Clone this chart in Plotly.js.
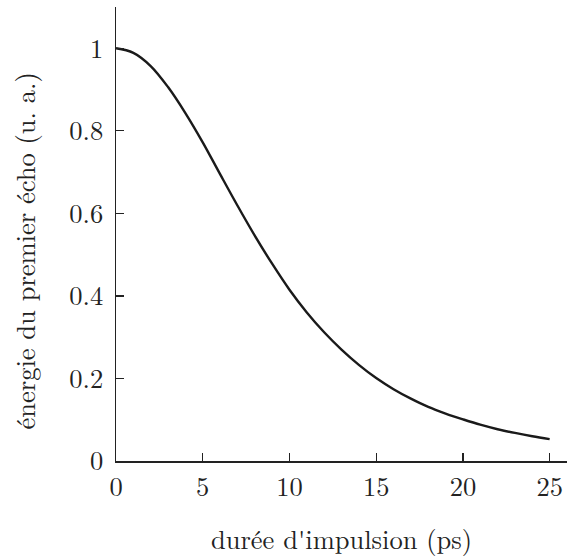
<!DOCTYPE html>
<html>
<head>
<meta charset="utf-8">
<script src="https://cdn.plot.ly/plotly-3.0.1.min.js"></script>
<style>html,body{margin:0;padding:0;background:#fff;}#chart{width:568px;height:557px;}</style>
</head>
<body>
<div id="chart"></div>
<script>
const duree = [0, 1, 2, 3, 4, 5, 6, 7, 8, 9, 10, 11, 12, 13, 14, 15, 16, 17, 18, 19, 20, 21, 22, 23, 24, 25];
const energie = [1.0, 0.989, 0.957, 0.906, 0.843, 0.772, 0.695, 0.619, 0.546, 0.478, 0.415, 0.360, 0.312, 0.270, 0.233, 0.201, 0.174, 0.151, 0.131, 0.115, 0.101, 0.088, 0.077, 0.068, 0.060, 0.053];
const xTicks = [0, 5, 10, 15, 20, 25];
const yTicks = [0, 0.2, 0.4, 0.6, 0.8, 1];
const yTickLabels = ['0', '0.2', '0.4', '0.6', '0.8', '1'];
const xTitle = "durée d'impulsion (ps)";
const yTitle = 'énergie du premier écho (u. a.)';

const fontFam = 'Latin Modern Roman';
const fs = 26.5;
const trace = {
  x: duree, y: energie, type: 'scatter', mode: 'lines',
  line: {color: '#1a1a1a', width: 2.4, shape: 'spline', smoothing: 1},
  hoverinfo: 'skip'
};
const layout = {
  width: 568, height: 557,
  margin: {l: 116, r: 1, t: 7, b: 96},
  paper_bgcolor: '#fff', plot_bgcolor: '#fff',
  showlegend: false,
  font: {family: fontFam, size: fs, color: '#222'},
  xaxis: {
    range: [0, 26], showgrid: false, zeroline: false,
    showline: true, linecolor: '#222', linewidth: 1.5,
    ticks: 'inside', ticklen: 8, tickwidth: 1.3, tickcolor: '#222',
    tickvals: xTicks, ticktext: xTicks.map(String),
    ticklabelstandoff: 2,
    title: {text: xTitle, font: {family: fontFam, size: fs, color: '#222'}, standoff: 28}
  },
  yaxis: {
    range: [0, 1.1], showgrid: false, zeroline: false,
    showline: true, linecolor: '#222', linewidth: 1.5,
    ticks: 'inside', ticklen: 8, tickwidth: 1.3, tickcolor: '#222',
    tickvals: yTicks, ticktext: yTickLabels,
    ticklabelstandoff: 6
  },
  annotations: [{
    text: yTitle, textangle: -90,
    xref: 'paper', yref: 'y', x: -0.204, y: 0.51,
    xanchor: 'center', yanchor: 'middle', showarrow: false,
    font: {family: fontFam, size: fs, color: '#222'}
  }]
};
Plotly.newPlot('chart', [trace], layout, {displayModeBar: false, staticPlot: true});
</script>
</body>
</html>
